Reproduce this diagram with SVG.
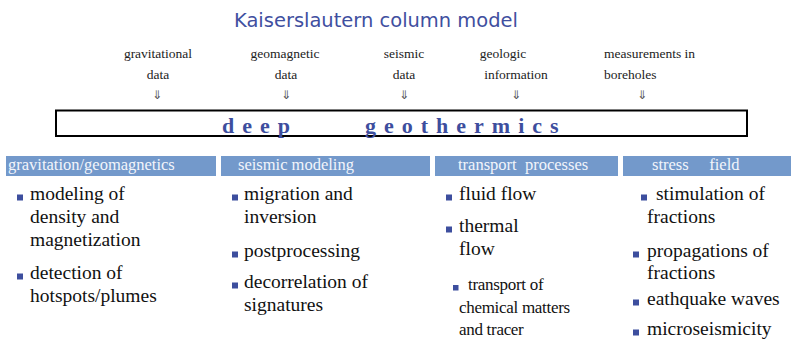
<svg xmlns="http://www.w3.org/2000/svg" width="791" height="343" viewBox="0 0 791 343">
<style>
.title{font-family:"DejaVu Sans","Liberation Sans",sans-serif;font-size:20px;fill:#3F4FA0}
.lbl{font-family:"Liberation Serif",serif;font-size:13.5px;fill:#222;text-anchor:middle}
.arr{font-family:"DejaVu Sans",sans-serif;font-size:12px;fill:#555;text-anchor:middle}
.big{font-family:"Liberation Serif",serif;font-size:22px;font-weight:bold;fill:#3D4E9E;letter-spacing:8px}
.bar{fill:#7399CB}
.hd{font-family:"Liberation Serif",serif;font-size:16.5px;fill:#F2F5FB}
.tx{font-family:"Liberation Serif",serif;font-size:19.5px;fill:#111}
.sm{font-family:"Liberation Serif",serif;font-size:17px;fill:#111;letter-spacing:-0.3px}
.b{fill:#3D4E9E}
</style>
<rect width="791" height="343" fill="#fff"/>
<g id="title"><text class="title" x="234" y="27" textLength="284" lengthAdjust="spacingAndGlyphs">Kaiserslautern column model</text></g>
<g id="in-grav"><text class="lbl" x="158" y="58">gravitational</text><text class="lbl" x="158" y="79">data</text></g>
<g id="in-geomag"><text class="lbl" x="285" y="58">geomagnetic</text><text class="lbl" x="286" y="79">data</text></g>
<g id="in-seis"><text class="lbl" x="404" y="58">seismic</text><text class="lbl" x="404" y="79">data</text></g>
<g id="in-geol"><text class="lbl" x="503" y="58">geologic</text><text class="lbl" x="516" y="79">information</text></g>
<g id="in-bore"><text class="lbl" x="604" y="58" style="text-anchor:start">measurements in</text><text class="lbl" x="604" y="79" style="text-anchor:start">boreholes</text></g>
<g id="connectors">
<text class="arr" x="157" y="99">⇓</text>
<text class="arr" x="286" y="99">⇓</text>
<text class="arr" x="404" y="99">⇓</text>
<text class="arr" x="516" y="99">⇓</text>
<text class="arr" x="642" y="99">⇓</text>
</g>
<g id="deep-geothermics">
<rect x="56" y="110.5" width="691" height="25.5" fill="none" stroke="#000" stroke-width="2"/>
<text class="big" x="222" y="132.5">deep</text>
<text class="big" x="365" y="132.5">geothermics</text>
</g>
<g id="col-grav">
<rect class="bar" x="6" y="156" width="210" height="20"/>
<text class="hd" x="8" y="170">gravitation/geomagnetics</text>
<rect class="b" x="17" y="194.5" width="6" height="6"/>
<text class="tx" x="30" y="200">modeling of</text>
<text class="tx" x="30" y="223">density and</text>
<text class="tx" x="30" y="246">magnetization</text>
<rect class="b" x="17" y="273.5" width="6" height="6"/>
<text class="tx" x="30" y="279">detection of</text>
<text class="tx" x="30" y="302">hotspots/plumes</text>
</g>
<g id="col-seis">
<rect class="bar" x="221" y="156" width="209" height="20"/>
<text class="hd" x="238" y="170">seismic modeling</text>
<rect class="b" x="232" y="194.5" width="6" height="6"/>
<text class="tx" x="244" y="200">migration and</text>
<text class="tx" x="244" y="223">inversion</text>
<rect class="b" x="232" y="251.5" width="6" height="6"/>
<text class="tx" x="244" y="257">postprocessing</text>
<rect class="b" x="232" y="282.5" width="6" height="6"/>
<text class="tx" x="244" y="288">decorrelation of</text>
<text class="tx" x="244" y="311">signatures</text>
</g>
<g id="col-transport">
<rect class="bar" x="435" y="156" width="183" height="20"/>
<text class="hd" x="458" y="170" xml:space="preserve">transport  processes</text>
<rect class="b" x="446" y="194.5" width="6" height="6"/>
<text class="tx" x="459" y="200">fluid flow</text>
<rect class="b" x="446" y="226.5" width="6" height="6"/>
<text class="tx" x="459" y="232">thermal</text>
<text class="tx" x="459" y="255">flow</text>
<rect class="b" x="453" y="285" width="5.5" height="5.5"/>
<text class="sm" x="468" y="290">transport of</text>
<text class="sm" x="459" y="313">chemical matters</text>
<text class="sm" x="459" y="335">and tracer</text>
</g>
<g id="col-stress">
<rect class="bar" x="623" y="156" width="168" height="20"/>
<text class="hd" x="652" y="170" xml:space="preserve">stress     field</text>
<rect class="b" x="641" y="194.5" width="6" height="6"/>
<text class="tx" x="656" y="200">stimulation of</text>
<text class="tx" x="647" y="223">fractions</text>
<rect class="b" x="633" y="251.5" width="6" height="6"/>
<text class="tx" x="647" y="257">propagations of</text>
<text class="tx" x="647" y="279">fractions</text>
<rect class="b" x="633" y="299.5" width="6" height="6"/>
<text class="tx" x="647" y="305">eathquake waves</text>
<rect class="b" x="633" y="329.5" width="6" height="6"/>
<text class="tx" x="647" y="335">microseismicity</text>
</g>
</svg>
